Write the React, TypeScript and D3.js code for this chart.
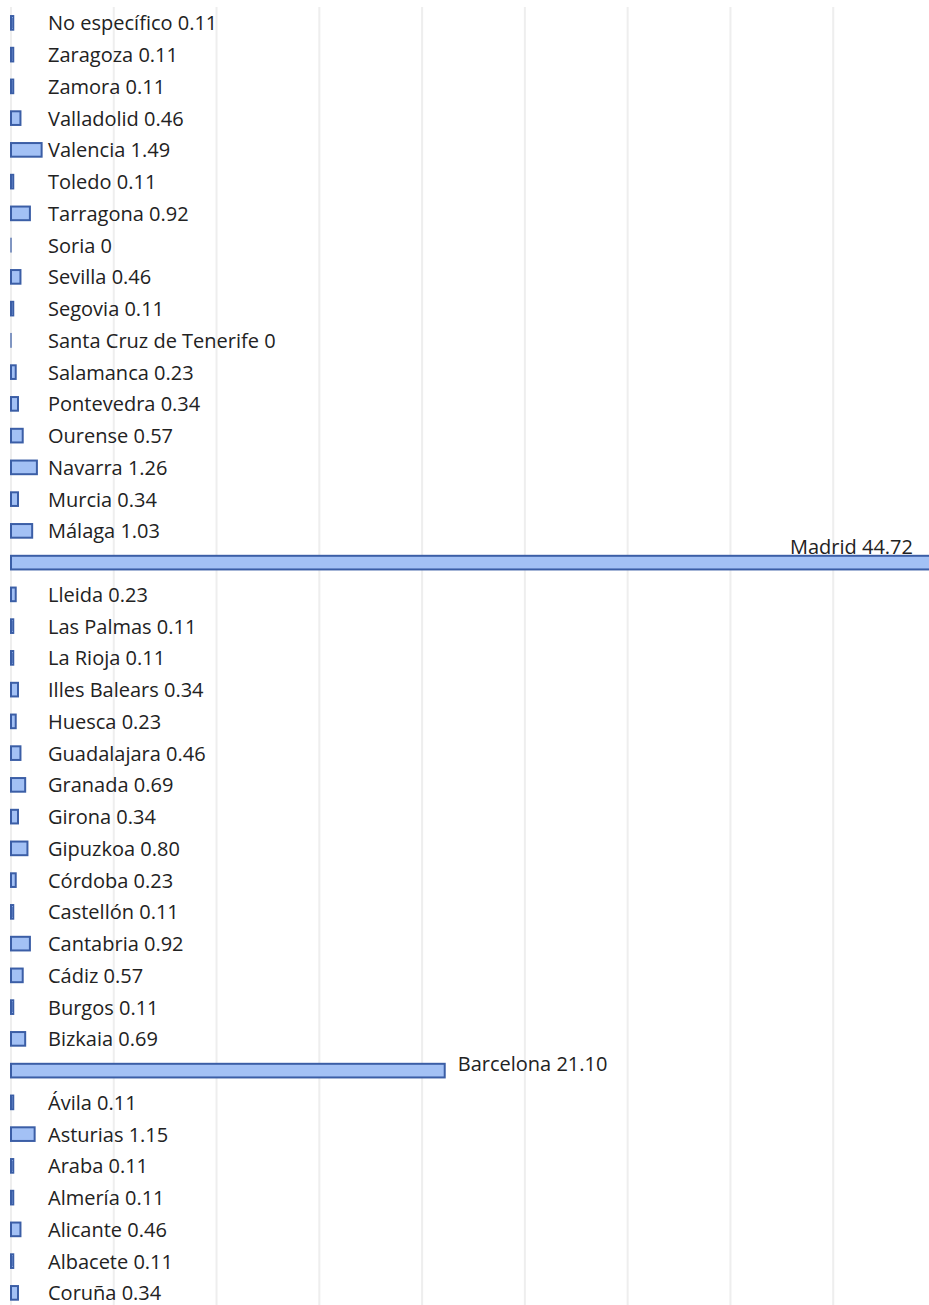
import { useEffect, useRef } from "react";
import * as d3 from "d3";

const provinces = [
  "No específico", "Zaragoza", "Zamora", "Valladolid", "Valencia", "Toledo",
  "Tarragona", "Soria", "Sevilla", "Segovia", "Santa Cruz de Tenerife",
  "Salamanca", "Pontevedra", "Ourense", "Navarra", "Murcia", "Málaga",
  "Madrid", "Lleida", "Las Palmas", "La Rioja", "Illes Balears", "Huesca",
  "Guadalajara", "Granada", "Girona", "Gipuzkoa", "Córdoba", "Castellón",
  "Cantabria", "Cádiz", "Burgos", "Bizkaia", "Barcelona", "Ávila", "Asturias",
  "Araba", "Almería", "Alicante", "Albacete", "Coruña",
];

const shares = [
  0.11, 0.11, 0.11, 0.46, 1.49, 0.11, 0.92, 0, 0.46, 0.11, 0, 0.23, 0.34,
  0.57, 1.26, 0.34, 1.03, 44.72, 0.23, 0.11, 0.11, 0.34, 0.23, 0.46, 0.69,
  0.34, 0.8, 0.23, 0.11, 0.92, 0.57, 0.11, 0.69, 21.1, 0.11, 1.15, 0.11,
  0.11, 0.46, 0.11, 0.34,
];

// labels as they appear in the chart (0 stays "0", others keep 2 decimals)
const shareLabels = shares.map((v) => (v === 0 ? "0" : v.toFixed(2)));

const gridTicks = d3.range(0, 50, 5);

export default function App() {
  const ref = useRef<SVGSVGElement>(null);

  useEffect(() => {
    const width = 929;
    const height = 1305;
    const svg = d3.select(ref.current);
    svg.selectAll("*").remove();
    svg.attr("width", width).attr("height", height);

    const x = d3.scaleLinear().domain([0, 45]).range([11, 936]);
    const y = d3
      .scaleBand<string>()
      .domain(provinces)
      .range([7, 7 + provinces.length * 31.75])
      .paddingInner(0.57)
      .paddingOuter(0.285);

    // vertical grid lines
    svg
      .append("g")
      .selectAll("line")
      .data(gridTicks)
      .join("line")
      .attr("x1", (d) => x(d))
      .attr("x2", (d) => x(d))
      .attr("y1", 7)
      .attr("y2", height)
      .attr("stroke", "#eeeeee")
      .attr("stroke-width", 2);

    const rows = provinces.map((p, i) => ({ name: p, value: shares[i], label: shareLabels[i] }));

    svg
      .append("g")
      .selectAll("rect")
      .data(rows)
      .join("rect")
      .attr("x", x(0))
      .attr("y", (d) => y(d.name)!)
      .attr("width", (d) => Math.max(0.01, x(d.value) - x(0)))
      .attr("height", y.bandwidth())
      .attr("fill", "#a3c1f5")
      .attr("stroke", "#3b5ea6")
      .attr("stroke-width", (d) => (d.value === 0 ? 1.2 : 2));

    const labels = svg
      .append("g")
      .style("font-family", "'Open Sans', 'Noto Sans', sans-serif")
      .style("font-size", "20px")
      .attr("fill", "#222");

    rows.forEach((d) => {
      const cy = y(d.name)! + y.bandwidth() / 2;
      const end = x(d.value);
      const t = labels
        .append("text")
        .attr("dominant-baseline", "central")
        .text(`${d.name} ${d.label}`);
      const w = (t.node() as SVGTextElement).getComputedTextLength();
      if (end <= 48) {
        t.attr("x", 48).attr("y", cy);
      } else if (end + 13 + w > width) {
        // no room on the right: put it above the bar, right aligned
        t.attr("text-anchor", "end").attr("x", width - 16).attr("y", cy - 16);
      } else {
        t.attr("x", end + 13).attr("y", cy - 7);
      }
    });
  }, []);

  return (
    <div style={{ position: "absolute", left: 0, top: 0 }}>
      <svg ref={ref} style={{ display: "block" }}></svg>
    </div>
  );
}
